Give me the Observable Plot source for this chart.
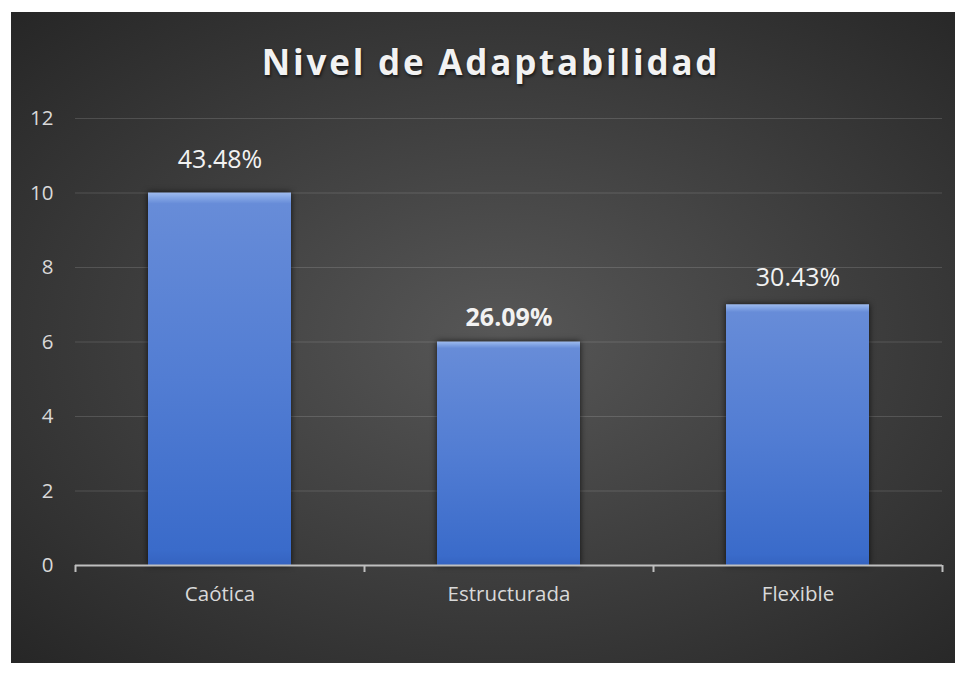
<!DOCTYPE html>
<html>
<head>
<meta charset="utf-8">
<script src="https://cdn.jsdelivr.net/npm/d3@7"></script>
<script src="https://cdn.jsdelivr.net/npm/@observablehq/plot@0.6"></script>
<style>
  html, body { margin: 0; padding: 0; background: #ffffff; }
  #panel {
    position: absolute; left: 11px; top: 12px; width: 944px; height: 651px;
    background: radial-gradient(ellipse farthest-corner at 52% 50%, #575757 0%, #3c3c3c 55%, #262626 100%);
    overflow: hidden;
  }
  #title {
    position: absolute; left: 0; top: 28px; width: 100%; height: 44px; line-height: 44px;
    box-sizing: border-box; padding-left: 16px;
    text-align: center; font-family: "Open Sans", sans-serif; font-weight: 700; font-size: 35px;
    letter-spacing: 2.8px; color: #f2f2f2; text-shadow: 1px 2px 3px rgba(0,0,0,0.6);
  }
  #chart { position: absolute; left: 0; top: 80px; }
</style>
</head>
<body>
<div id="panel">
  <div id="title">Nivel de Adaptabilidad</div>
  <div id="chart"></div>
</div>
<script>
const categories = ["Caótica", "Estructurada", "Flexible"];
const counts = [10, 6, 7];
const percentLabels = ["43.48%", "26.09%", "30.43%"];
const yTicks = [0, 2, 4, 6, 8, 10, 12];

const data = categories.map((c, i) => ({category: c, count: counts[i], label: percentLabels[i]}));

const labelDy = {"Caótica": -33, "Estructurada": -24, "Flexible": -27};
const labelWeight = {"Caótica": 400, "Estructurada": 700, "Flexible": 400};

const step = (944 - 64 - 13) / categories.length;

const labelMarks = categories.map(c =>
  Plot.text(data, {
    filter: d => d.category === c,
    x: "category", y: "count", text: "label",
    dy: labelDy[c], lineAnchor: "middle",
    fill: "#f2f2f2", fontSize: 25, fontWeight: labelWeight[c],
    fontFamily: "Open Sans, sans-serif"
  })
);

const plot = Plot.plot({
  width: 944,
  height: 571,
  marginLeft: 64,
  marginRight: 13,
  marginTop: 26,
  marginBottom: 98,
  style: {background: "transparent", fontFamily: "Open Sans, sans-serif", overflow: "visible"},
  x: {domain: categories, paddingInner: 0.505, paddingOuter: 0.2525, label: null},
  y: {domain: [0, 12], ticks: yTicks, label: null},
  marks: [
    Plot.ruleY(yTicks.filter(t => t > 0), {stroke: "#ffffff", strokeOpacity: 0.14, strokeWidth: 1.2}),
    Plot.axisY({ticks: yTicks, tickSize: 0, tickPadding: 22, fontSize: 20.5, fill: "#d9d9d9", label: null}),
    Plot.axisX({tickSize: 0, tickPadding: 21, fontSize: 20.5, fill: "#d9d9d9", label: null}),
    Plot.barY(data, {x: "category", y: "count", fill: "url(#barGrad)"}),
    Plot.ruleY([0], {stroke: "#bfbfbf", strokeWidth: 2}),
    Plot.ruleX(categories, {x: d => d, dx: -step / 2, y1: 0, y2: 0, insetTop: 7, stroke: "#bfbfbf", strokeWidth: 2}),
    Plot.ruleX(categories.slice(-1), {x: d => d, dx: step / 2, y1: 0, y2: 0, insetTop: 7, stroke: "#bfbfbf", strokeWidth: 2}),
    ...labelMarks
  ]
});

const svg = d3.select(plot);
const defs = svg.insert("defs", ":first-child");
const g = defs.append("linearGradient").attr("id", "barGrad").attr("x1", 0).attr("y1", 0).attr("x2", 0).attr("y2", 1);
[["0%", "#9fbbee"], ["1.2%", "#86a8e6"], ["3%", "#678cd8"], ["50%", "#527dd3"], ["96%", "#3a6bca"], ["100%", "#3563c0"]]
  .forEach(([o, c]) => g.append("stop").attr("offset", o).attr("stop-color", c));
svg.selectAll("g[aria-label='bar']").style("filter", "drop-shadow(0px 0px 3px rgba(0,0,0,0.75))");

document.getElementById("chart").appendChild(plot);
</script>
</body>
</html>
